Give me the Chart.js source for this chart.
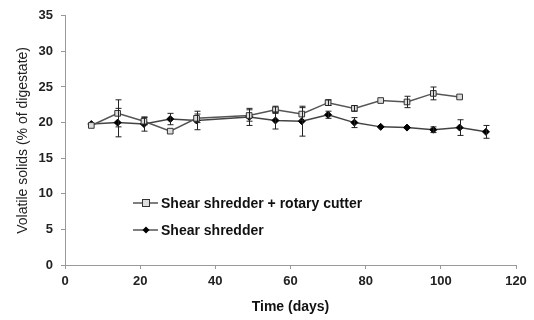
<!DOCTYPE html>
<html>
<head>
<meta charset="utf-8">
<script src="https://cdn.jsdelivr.net/npm/chart.js@4.4.0/dist/chart.umd.min.js"></script>
<style>
  html, body { margin: 0; padding: 0; background: #fff; }
  #wrap { width: 534px; height: 320px; }
</style>
</head>
<body>
<div id="wrap"><canvas id="vs-canvas" width="534" height="320"></canvas></div>
<script>
// days sampled
var daysCutter = [7, 14, 21, 28, 35, 49, 56, 63, 70, 77, 84, 91, 98, 105];
var vsCutter = [19.6, 21.3, 20.2, 18.8, 20.6, 21.0, 21.8, 21.2, 22.8, 22.0, 23.1, 22.9, 24.1, 23.6];
var errCutter = [0.3, 1.9, 0.5, 0.2, 0.6, 0.8, 0.5, 0.9, 0.4, 0.4, 0.2, 0.8, 0.9, 0.2];

var daysShredder = [7, 14, 21, 28, 35, 49, 56, 63, 70, 77, 84, 91, 98, 105, 112];
var vsShredder = [19.8, 20.0, 19.8, 20.5, 20.3, 20.8, 20.3, 20.2, 21.1, 20.0, 19.4, 19.3, 19.0, 19.3, 18.7];
var errShredder = [0.3, 2.0, 1.0, 0.8, 1.3, 1.2, 1.2, 2.1, 0.5, 0.7, 0.2, 0.2, 0.4, 1.1, 0.9];

var xTicks = [0, 20, 40, 60, 80, 100, 120];
var yTicks = [0, 5, 10, 15, 20, 25, 30, 35];

var legendLabels = ['Shear shredder + rotary cutter', 'Shear shredder'];

var FONT = '"Liberation Sans", Arial, sans-serif';

var toPoints = function(xs, ys) {
    var pts = [];
    for (var i = 0; i < xs.length; i++) {
        pts.push({x: xs[i], y: ys[i]});
    }
    return pts;
};

// vertical error bars with caps
var errorBars = {
    id: 'errorBars',
    afterDatasetsDraw: function(chart) {
        var ctx = chart.ctx;
        var xs = chart.scales.x, ys = chart.scales.y;
        var sets = [[daysCutter, vsCutter, errCutter], [daysShredder, vsShredder, errShredder]];
        ctx.save();
        ctx.strokeStyle = '#222';
        ctx.lineWidth = 1;
        sets.forEach(function(s) {
            for (var i = 0; i < s[0].length; i++) {
                if (s[2][i] < 0.35) continue;
                var px = Math.round(xs.getPixelForValue(s[0][i])) + 0.5;
                var top = ys.getPixelForValue(s[1][i] + s[2][i]);
                var bot = ys.getPixelForValue(s[1][i] - s[2][i]);
                ctx.beginPath();
                ctx.moveTo(px, top); ctx.lineTo(px, bot);
                ctx.moveTo(px - 3, top); ctx.lineTo(px + 3, top);
                ctx.moveTo(px - 3, bot); ctx.lineTo(px + 3, bot);
                ctx.stroke();
            }
        });
        ctx.restore();
    }
};

// legend inside the plot area
var innerLegend = {
    id: 'innerLegend',
    afterDraw: function(chart) {
        var ctx = chart.ctx;
        var rows = [203, 230];
        ctx.save();
        ctx.font = 'bold 14px ' + FONT;
        ctx.textBaseline = 'middle';
        for (var i = 0; i < legendLabels.length; i++) {
            var y = rows[i];
            ctx.strokeStyle = '#555';
            ctx.lineWidth = 1.5;
            ctx.beginPath();
            ctx.moveTo(133, y); ctx.lineTo(158, y);
            ctx.stroke();
            if (i === 0) {
                ctx.fillStyle = '#ddd';
                ctx.strokeStyle = '#333';
                ctx.lineWidth = 1;
                ctx.fillRect(142.5, y - 3.5, 7, 7);
                ctx.strokeRect(142.5, y - 3.5, 7, 7);
            } else {
                ctx.fillStyle = '#000';
                ctx.beginPath();
                ctx.moveTo(146, y - 3.5); ctx.lineTo(149.5, y);
                ctx.lineTo(146, y + 3.5); ctx.lineTo(142.5, y);
                ctx.closePath();
                ctx.fill();
            }
            ctx.fillStyle = '#111';
            ctx.fillText(legendLabels[i], 161, y + 1);
        }
        ctx.restore();
    }
};

window.onload = function() {
    var ctx = document.getElementById('vs-canvas').getContext('2d');
    window.vsChart = new Chart(ctx, {
        type: 'line',
        data: {
            datasets: [{
                label: legendLabels[0],
                data: toPoints(daysCutter, vsCutter),
                borderColor: '#555',
                borderWidth: 1.5,
                pointStyle: 'rect',
                pointRadius: 4,
                pointBackgroundColor: '#ddd',
                pointBorderColor: '#333',
                pointBorderWidth: 1,
                tension: 0
            }, {
                label: legendLabels[1],
                data: toPoints(daysShredder, vsShredder),
                borderColor: '#444',
                borderWidth: 1.5,
                pointStyle: 'rectRot',
                pointRadius: 3.5,
                pointBackgroundColor: '#000',
                pointBorderColor: '#000',
                pointBorderWidth: 1,
                tension: 0
            }]
        },
        options: {
            responsive: false,
            animation: false,
            layout: { padding: { top: 15, right: 18, left: 0, bottom: 0 } },
            plugins: {
                legend: { display: false },
                tooltip: { enabled: false }
            },
            scales: {
                x: {
                    type: 'linear',
                    min: 0, max: 120,
                    afterBuildTicks: function(scale) {
                        scale.ticks = xTicks.map(function(v) { return {value: v}; });
                    },
                    afterFit: function(scale) { scale.height = 55; },
                    grid: { drawOnChartArea: false, drawTicks: true, tickLength: 4, color: '#999' },
                    border: { display: true, color: '#999', width: 1 },
                    ticks: {
                        color: '#222',
                        padding: 5,
                        maxRotation: 0,
                        font: { family: FONT, size: 13, weight: 'bold' }
                    },
                    title: {
                        display: true,
                        text: 'Time (days)',
                        color: '#111',
                        padding: { top: 4, bottom: 4 },
                        font: { family: FONT, size: 14, weight: 'bold' }
                    }
                },
                y: {
                    min: 0, max: 35,
                    afterBuildTicks: function(scale) {
                        scale.ticks = yTicks.map(function(v) { return {value: v}; });
                    },
                    afterFit: function(scale) { scale.width = 65; },
                    grid: { drawOnChartArea: false, drawTicks: true, tickLength: 4, color: '#999' },
                    border: { display: true, color: '#999', width: 1 },
                    ticks: {
                        color: '#222',
                        padding: 8,
                        font: { family: FONT, size: 13, weight: 'bold' }
                    },
                    title: {
                        display: true,
                        text: 'Volatile solids (% of digestate)',
                        color: '#222',
                        padding: { top: 15, bottom: 0 },
                        font: { family: FONT, size: 14 }
                    }
                }
            }
        },
        plugins: [errorBars, innerLegend]
    });
};
</script>
</body>
</html>
